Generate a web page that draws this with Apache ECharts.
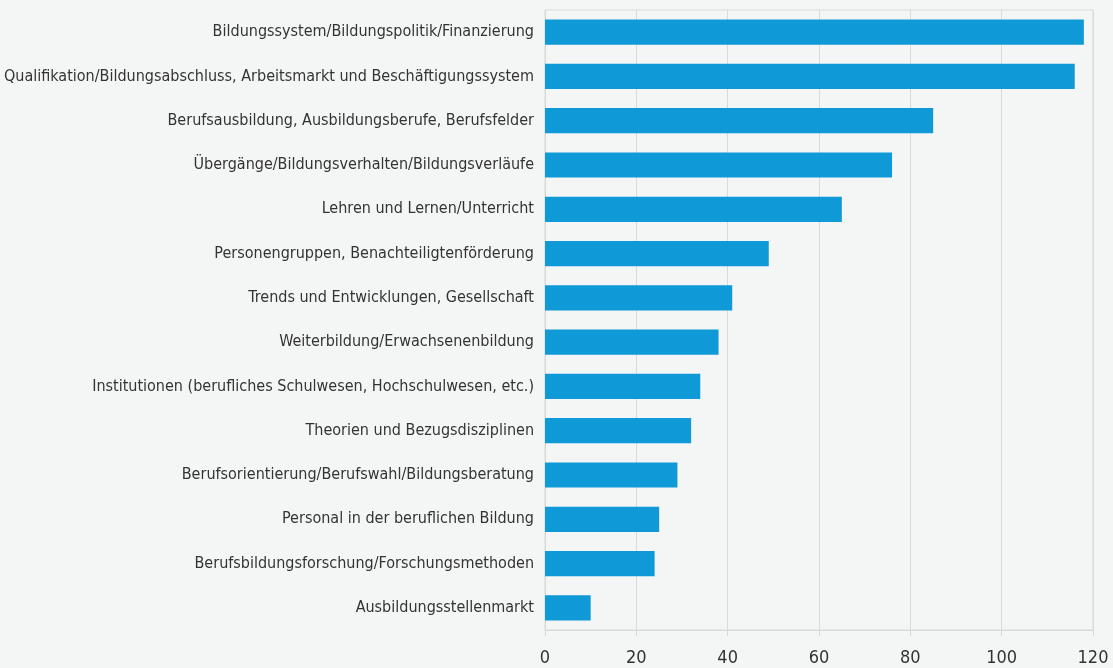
<!DOCTYPE html>
<html>
<head>
<meta charset="utf-8">
<script src="https://cdn.jsdelivr.net/npm/echarts@6/dist/echarts.min.js"></script>
<style>
  html, body { margin: 0; padding: 0; background: #f4f6f5; }
  #main { width: 1113px; height: 668px; }
</style>
</head>
<body>
<div id="main"></div>
<script>
// Kategorien (von oben nach unten)
const categories = [
  'Bildungssystem/Bildungspolitik/Finanzierung',
  'Qualifikation/Bildungsabschluss, Arbeitsmarkt und Beschäftigungssystem',
  'Berufsausbildung, Ausbildungsberufe, Berufsfelder',
  'Übergänge/Bildungsverhalten/Bildungsverläufe',
  'Lehren und Lernen/Unterricht',
  'Personengruppen, Benachteiligtenförderung',
  'Trends und Entwicklungen, Gesellschaft',
  'Weiterbildung/Erwachsenenbildung',
  'Institutionen (berufliches Schulwesen, Hochschulwesen, etc.)',
  'Theorien und Bezugsdisziplinen',
  'Berufsorientierung/Berufswahl/Bildungsberatung',
  'Personal in der beruflichen Bildung',
  'Berufsbildungsforschung/Forschungsmethoden',
  'Ausbildungsstellenmarkt'
]
// Werte je Kategorie
const values = [118, 116, 85, 76, 65, 49, 41, 38, 34, 32, 29, 25, 24, 10]
// Achse
const axisMin = 0
const axisMax = 120
const axisStep = 20

const fontFamily = "'DejaVu Sans Condensed', 'Liberation Sans Narrow', sans-serif"

const chart = echarts.init(document.getElementById('main'))
chart.setOption({
  backgroundColor: '#f4f6f5',
  animation: false,
  grid: {
    left: 545, right: 20, top: 10, bottom: 38,
    outerBoundsMode: 'none',
    containLabel: false,
    show: true,
    borderColor: '#d9d9d9',
    borderWidth: 1
  },
  xAxis: {
    type: 'value',
    min: axisMin, max: axisMax, interval: axisStep,
    axisLine: { show: true, lineStyle: { color: '#d9d9d9', width: 1 } },
    axisTick: { show: true, length: 6, lineStyle: { color: '#d9d9d9' } },
    splitLine: { show: true, lineStyle: { color: '#d9d9d9', width: 1 } },
    axisLabel: { color: '#333', fontSize: 18, fontFamily: fontFamily, margin: 19 }
  },
  yAxis: {
    type: 'category',
    data: categories,
    inverse: true,
    axisLine: { show: true, lineStyle: { color: '#d9d9d9' } },
    axisTick: { show: false },
    axisLabel: { color: '#333', fontSize: 16, fontFamily: fontFamily, margin: 11 }
  },
  series: [{
    type: 'bar',
    data: values,
    barWidth: '57%',
    itemStyle: { color: '#0f99d6' }
  }]
})
</script>
</body>
</html>
